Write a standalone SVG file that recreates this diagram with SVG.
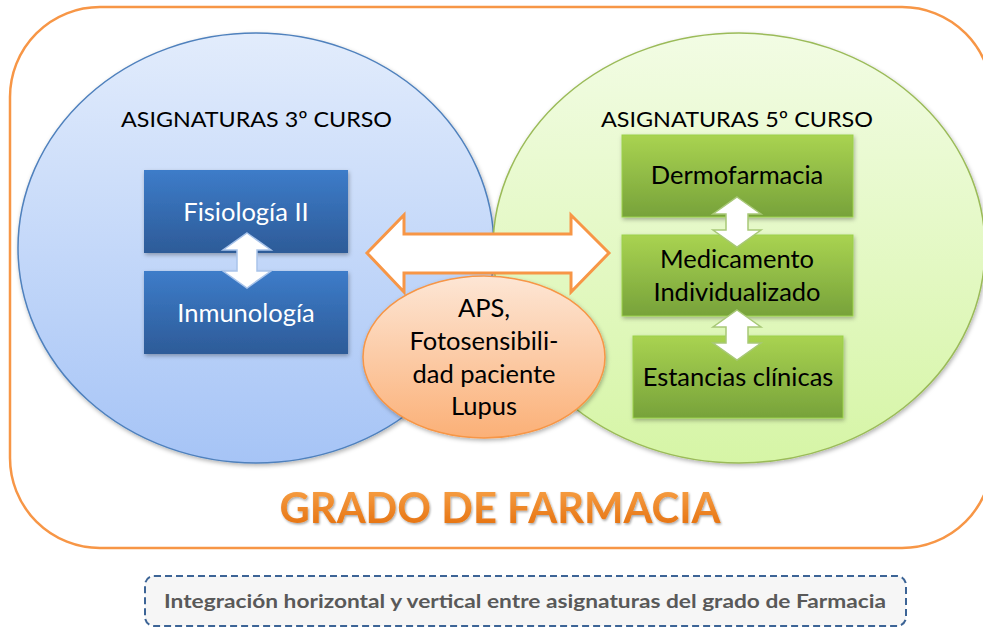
<svg xmlns="http://www.w3.org/2000/svg" width="983" height="628" viewBox="0 0 983 628">
<defs>
<linearGradient id="gBlueC" x1="0" y1="0" x2="0" y2="1"><stop offset="0" stop-color="#e2ecfc"/><stop offset="1" stop-color="#a6c4f6"/></linearGradient>
<linearGradient id="gGreenC" x1="0" y1="0" x2="0" y2="1"><stop offset="0" stop-color="#f2fce4"/><stop offset="1" stop-color="#d6f5a6"/></linearGradient>
<linearGradient id="gBlueB" x1="0" y1="0" x2="0" y2="1"><stop offset="0" stop-color="#3d7cc9"/><stop offset="1" stop-color="#2d5b98"/></linearGradient>
<linearGradient id="gGreenB" x1="0" y1="0" x2="0" y2="1"><stop offset="0" stop-color="#a9d351"/><stop offset="1" stop-color="#77a23a"/></linearGradient>
<linearGradient id="gOrange" x1="0" y1="0" x2="0" y2="1"><stop offset="0" stop-color="#fde6d5"/><stop offset="1" stop-color="#fbb077"/></linearGradient>
<linearGradient id="gTitle" x1="0" y1="0" x2="0" y2="1"><stop offset="0" stop-color="#f9a64c"/><stop offset="1" stop-color="#e36c0a"/></linearGradient>
<filter id="sh" x="-10%" y="-10%" width="130%" height="140%"><feDropShadow dx="1" dy="2" stdDeviation="2" flood-color="#000" flood-opacity="0.3"/></filter>
<filter id="tsh" x="-5%" y="-10%" width="110%" height="130%"><feDropShadow dx="1" dy="1.5" stdDeviation="1" flood-color="#000" flood-opacity="0.35"/></filter>
</defs>
<style>
text{font-family:Lato,"Liberation Sans",sans-serif}
.hd{font-size:22px;fill:#000}
.bw{font-size:25.5px;fill:#fff;text-anchor:middle}
.bk{font-size:25.5px;fill:#000;text-anchor:middle}
.el{font-size:25.5px;fill:#000;text-anchor:middle}
.va{fill:#fff;stroke-width:1.5}
</style>
<g id="frame"><rect x="10" y="7" width="982" height="541" rx="90" ry="90" fill="#fff" stroke="#f79646" stroke-width="2.5"/></g>
<g id="circle3"><ellipse cx="256" cy="248" rx="238" ry="215" fill="url(#gBlueC)" stroke="#4f81bd" stroke-width="1.5" filter="url(#sh)"/>
<text class="hd" x="121" y="127" textLength="271" lengthAdjust="spacingAndGlyphs">ASIGNATURAS 3º CURSO</text></g>
<g id="circle5"><ellipse cx="739" cy="248" rx="246" ry="215" fill="url(#gGreenC)" stroke="#9bbb59" stroke-width="1.5" filter="url(#sh)"/>
<text class="hd" x="601" y="127" textLength="272" lengthAdjust="spacingAndGlyphs">ASIGNATURAS 5º CURSO</text></g>
<g id="fisiologia"><rect x="144" y="170" width="204" height="83" fill="url(#gBlueB)" filter="url(#sh)"/><text class="bw" x="246" y="221">Fisiología II</text></g>
<g id="inmunologia"><rect x="144" y="271" width="204" height="83" fill="url(#gBlueB)" filter="url(#sh)"/><text class="bw" x="246" y="322">Inmunología</text></g>
<g id="dermofarmacia"><rect x="622" y="135" width="231" height="82" fill="url(#gGreenB)" stroke="#9bd14a" stroke-width="1" filter="url(#sh)"/><text class="bk" x="737" y="184">Dermofarmacia</text></g>
<g id="medicamento"><rect x="622" y="235" width="231" height="81" fill="url(#gGreenB)" stroke="#9bd14a" stroke-width="1" filter="url(#sh)"/><text class="bk" x="737" y="268">Medicamento</text><text class="bk" x="737" y="301">Individualizado</text></g>
<g id="estancias"><rect x="633" y="336" width="210" height="82" fill="url(#gGreenB)" stroke="#9bd14a" stroke-width="1" filter="url(#sh)"/><text class="bk" x="738" y="386">Estancias clínicas</text></g>
<g id="connectors">
<path class="va" stroke="#a9c4ea" d="M247,233 L271,250 L257,250 L257,271 L271,271 L247,288 L223,271 L237,271 L237,250 L223,250 Z"/>
<path class="va" stroke="#a8c877" d="M737,197 L761,214 L748,214 L748,230 L761,230 L737,247 L713,230 L726,230 L726,214 L713,214 Z"/>
<path class="va" stroke="#a8c877" d="M737,310 L761,327 L748,327 L748,343 L761,343 L737,360 L713,343 L726,343 L726,327 L713,327 Z"/>
<path fill="#fff" stroke="#f79646" stroke-width="3" stroke-linejoin="miter" d="M367,253 L404,215 L404,234 L571,234 L571,215 L609,253 L571,292 L571,273 L404,273 L404,292 Z"/>
</g>
<g id="aps"><ellipse cx="484" cy="357" rx="121" ry="81" fill="url(#gOrange)" stroke="#f79646" stroke-width="1.5" filter="url(#sh)"/>
<text class="el" x="484" y="317">APS,</text><text class="el" x="484" y="350">Fotosensibili-</text><text class="el" x="484" y="383">dad paciente</text><text class="el" x="484" y="415">Lupus</text></g>
<g id="title"><text x="500" y="523" text-anchor="middle" font-size="42" font-weight="bold" fill="url(#gTitle)" filter="url(#tsh)" textLength="441" lengthAdjust="spacingAndGlyphs">GRADO DE FARMACIA</text></g>
<g id="caption"><rect x="145" y="576" width="761" height="50" rx="9" fill="#f6f6f6" stroke="#3c6496" stroke-width="2" stroke-dasharray="7,4"/>
<text x="525" y="608" text-anchor="middle" font-size="18" font-weight="bold" fill="#595959" textLength="722" lengthAdjust="spacingAndGlyphs">Integración horizontal y vertical entre asignaturas del grado de Farmacia</text></g>
</svg>
